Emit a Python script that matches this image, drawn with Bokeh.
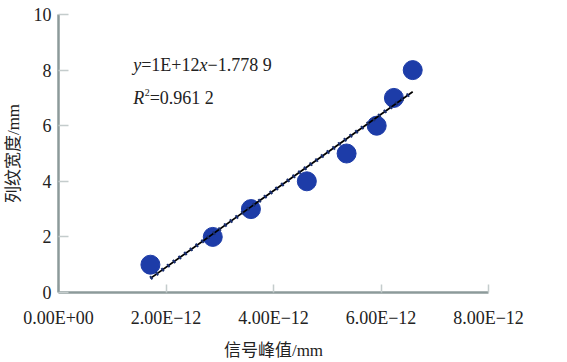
import numpy as np
from bokeh.plotting import figure
from bokeh.models import FixedTicker, CustomJSTickFormatter, Label, Range1d
from bokeh.embed import file_html
from bokeh.resources import INLINE

# ---- data ----
signal_peak = [1.71e-12, 2.87e-12, 3.58e-12, 4.62e-12, 5.36e-12, 5.92e-12, 6.24e-12, 6.59e-12]
stripe_width = [1, 2, 3, 4, 5, 6, 7, 8]
x_ticks = [0, 2e-12, 4e-12, 6e-12, 8e-12]
x_tick_labels = ["0.00E+00", "2.00E\u221212", "4.00E\u221212", "6.00E\u221212", "8.00E\u221212"]
y_ticks = [0, 2, 4, 6, 8, 10]
eq_text = ["y", "=1E+12", "x", "\u22121.778 9"]
r2_text = ["R", "2", "=0.961 2"]
x_title = "信号峰值/mm"
y_title = "列纹宽度/mm"

SERIF = "Liberation Serif"
CJK = "'Liberation Serif', 'Noto Sans CJK SC'"

p = figure(width=567, height=362, output_backend="svg", toolbar_location=None,
           x_range=Range1d(0, 8e-12), y_range=Range1d(0, 10),
           min_border_left=57, min_border_right=79, min_border_top=14, min_border_bottom=70)
p.outline_line_color = None
p.xgrid.visible = False
p.ygrid.visible = False
p.background_fill_color = "white"

# scatter
p.scatter(signal_peak, stripe_width, size=19, color="#1d3ca8", line_color="#1d3ca8")

# linear fit
k, b = np.polyfit(np.array(signal_peak), np.array(stripe_width), 1)
fx = np.array([min(signal_peak), max(signal_peak)])
fy = k * fx + b
p.line(fx, fy, line_color="black", line_width=1.8)
p.line(fx, fy, line_color="#1a2f70", line_width=4, line_dash="2 5")

# axes
for ax in (p.xaxis[0], p.yaxis[0]):
    ax.axis_line_color = "#8c9a9a"
    ax.axis_line_width = 2.5
    ax.major_tick_line_color = "#c4cccc"
    ax.major_tick_line_width = 1.5
    ax.major_tick_out = 0
    ax.minor_tick_line_color = None
    ax.major_label_text_font = SERIF
    ax.major_label_text_font_size = "18px"
    ax.major_label_text_color = "#222222"
    ax.axis_label_text_font = CJK
    ax.axis_label_text_font_size = "17px"
    ax.axis_label_text_font_style = "normal"
    ax.axis_label_text_color = "#222222"

p.xaxis.ticker = FixedTicker(ticks=x_ticks)
p.xaxis.formatter = CustomJSTickFormatter(args=dict(tv=x_ticks, labs=x_tick_labels), code="""
    for (let i = 0; i < tv.length; i++) { if (Math.abs(tv[i] - tick) < 1e-15) return labs[i]; }
    return "";
""")
p.xaxis.major_tick_in = 8
p.xaxis.major_label_standoff = 15
p.xaxis.axis_label = x_title
p.xaxis.axis_label_standoff = 10

p.yaxis.ticker = FixedTicker(ticks=y_ticks)
p.yaxis.major_tick_in = 10
p.yaxis.major_label_standoff = 7
p.yaxis.axis_label = y_title
p.yaxis.axis_label_standoff = 8

# equation annotations
fs = "18px"
ex = 1.39e-12
p.add_layout(Label(x=ex, y=8.17, x_offset=0, text=eq_text[0], text_font=SERIF, text_font_size=fs,
                   text_font_style="italic", text_baseline="middle", text_color="#222222"))
p.add_layout(Label(x=ex, y=8.17, x_offset=8, text=eq_text[1], text_font=SERIF, text_font_size=fs,
                   text_baseline="middle", text_color="#222222"))
p.add_layout(Label(x=ex, y=8.17, x_offset=66.3, text=eq_text[2], text_font=SERIF, text_font_size=fs,
                   text_font_style="italic", text_baseline="middle", text_color="#222222"))
p.add_layout(Label(x=ex, y=8.17, x_offset=74.3, text=eq_text[3], text_font=SERIF, text_font_size=fs,
                   text_baseline="middle", text_color="#222222"))

p.add_layout(Label(x=ex, y=7.0, x_offset=0, text=r2_text[0], text_font=SERIF, text_font_size=fs,
                   text_font_style="italic", text_baseline="middle", text_color="#222222"))
p.add_layout(Label(x=ex, y=7.0, x_offset=11.5, y_offset=5, text=r2_text[1], text_font=SERIF,
                   text_font_size="10px", text_baseline="middle", text_color="#222222"))
p.add_layout(Label(x=ex, y=7.0, x_offset=16.5, text=r2_text[2], text_font=SERIF, text_font_size=fs,
                   text_baseline="middle", text_color="#222222"))

open("out.html", "w").write(file_html(p, INLINE))
